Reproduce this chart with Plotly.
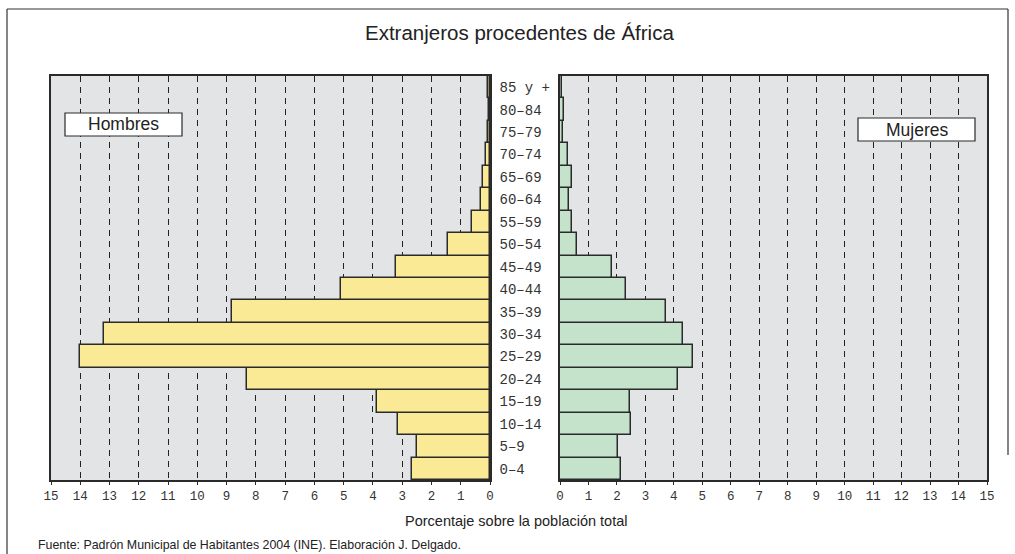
import plotly.graph_objects as go

W, H = 1015, 554

# Age groups, youngest first
grupos = ["0–4", "5–9", "10–14", "15–19", "20–24", "25–29", "30–34", "35–39",
          "40–44", "45–49", "50–54", "55–59", "60–64", "65–69", "70–74",
          "75–79", "80–84", "85 y +"]

# Percent of the total population, by sex
hombres = [2.65, 2.48, 3.15, 3.85, 8.32, 14.02, 13.2, 8.8, 5.08, 3.22,
           1.43, 0.61, 0.32, 0.23, 0.14, 0.08, 0.03, 0.06]
mujeres = [2.14, 2.02, 2.49, 2.46, 4.16, 4.68, 4.31, 3.74, 2.31, 1.84,
           0.59, 0.42, 0.31, 0.43, 0.29, 0.09, 0.13, 0.07]

ticks = list(range(0, 16))


def px(x):
    return x / W


def py(y):
    return 1 - y / H


mono_family = "Liberation Mono, Courier New, monospace"
tick_font = dict(family=mono_family, size=12.5, color="#333333")
cat_font = dict(family=mono_family, size=14, color="#333333")
sans = "Liberation Sans, Arial, sans-serif"
edge = "#2a2a2a"
bg = "#e3e4e6"

fig = go.Figure()
fig.add_trace(go.Bar(x=hombres, y=grupos, orientation="h", xaxis="x", yaxis="y",
                     marker=dict(color="#fae995", line=dict(color=edge, width=1.5)),
                     showlegend=False, hoverinfo="x+y"))
fig.add_trace(go.Bar(x=mujeres, y=grupos, orientation="h", xaxis="x2", yaxis="y2",
                     marker=dict(color="#c5e3cb", line=dict(color=edge, width=1.5)),
                     showlegend=False, hoverinfo="x+y"))

axis_common = dict(
    tickmode="array", tickvals=ticks, ticktext=[str(t) for t in ticks],
    ticks="outside", ticklen=3, tickcolor=edge, tickfont=tick_font,
    showgrid=True, gridcolor="#222222", gridwidth=1, griddash="6px,5px",
    zeroline=False, showline=True, linecolor=edge, linewidth=1.5, mirror=True,
    automargin=False, fixedrange=True,
)

ydom = [py(480), py(76)]

fig.update_layout(
    template="none",
    width=W, height=H, autosize=False,
    margin=dict(l=0, r=0, t=0, b=0, pad=0),
    paper_bgcolor="white", plot_bgcolor=bg,
    bargap=0,
    font=dict(family=sans, color="#333333"),
    xaxis=dict(domain=[px(51), px(490)], range=[15, 0], anchor="y", **axis_common),
    xaxis2=dict(domain=[px(560), px(987)], range=[0, 15], anchor="y2", **axis_common),
    yaxis=dict(domain=ydom, anchor="x", side="right",
               categoryorder="array", categoryarray=grupos,
               ticks="", tickfont=cat_font, ticklabelstandoff=5,
               showgrid=False, zeroline=False, automargin=False, fixedrange=True,
               showline=True, linecolor=edge, linewidth=1.5, mirror=True),
    yaxis2=dict(domain=ydom, anchor="x2", matches="y",
                categoryorder="array", categoryarray=grupos,
                showticklabels=False, ticks="", showgrid=False, zeroline=False,
                automargin=False, fixedrange=True,
                showline=True, linecolor=edge, linewidth=1.5, mirror=True),
)

frame = dict(color="#333333", width=1.2)
shapes = [
    # outer frame: top, left and right edges
    dict(type="line", xref="paper", yref="paper", x0=px(7), x1=px(1008), y0=py(9), y1=py(9),
         line=frame, layer="above"),
    dict(type="line", xref="paper", yref="paper", x0=px(7), x1=px(7), y0=py(9), y1=py(600),
         line=frame, layer="above"),
    dict(type="line", xref="paper", yref="paper", x0=px(1008), x1=px(1008), y0=py(9), y1=py(455),
         line=frame, layer="above"),
    # sex labels
    dict(type="rect", xref="paper", yref="paper",
         x0=px(65), x1=px(182), y0=py(136), y1=py(113),
         line=dict(color=edge, width=1.2), fillcolor="white", layer="above"),
    dict(type="rect", xref="paper", yref="paper",
         x0=px(858), x1=px(975), y0=py(141), y1=py(118),
         line=dict(color=edge, width=1.2), fillcolor="white", layer="above"),
]
fig.update_layout(shapes=shapes)

annotations = [
    dict(text="Extranjeros procedentes de África", x=px(519), y=py(33),
         font=dict(size=20.5, family=sans, color="#222222")),
    dict(text="Hombres", x=px(123.5), y=py(124.5), font=dict(size=17.5, family=sans, color="#222222")),
    dict(text="Mujeres", x=px(916.5), y=py(129.5), font=dict(size=17.5, family=sans, color="#222222")),
    dict(text="Porcentaje sobre la población total", x=px(516), y=py(521),
         font=dict(size=14.5, family=sans, color="#222222")),
    dict(text="Fuente: Padrón Municipal de Habitantes 2004 (INE). Elaboración J. Delgado.",
         x=px(36), y=py(545), xanchor="left",
         font=dict(size=12.4, family=sans, color="#222222")),
]
for a in annotations:
    a.setdefault("xanchor", "center")
    a.update(xref="paper", yref="paper", yanchor="middle", showarrow=False)
fig.update_layout(annotations=annotations)

fig.write_html("out.html", config={"displayModeBar": False})
